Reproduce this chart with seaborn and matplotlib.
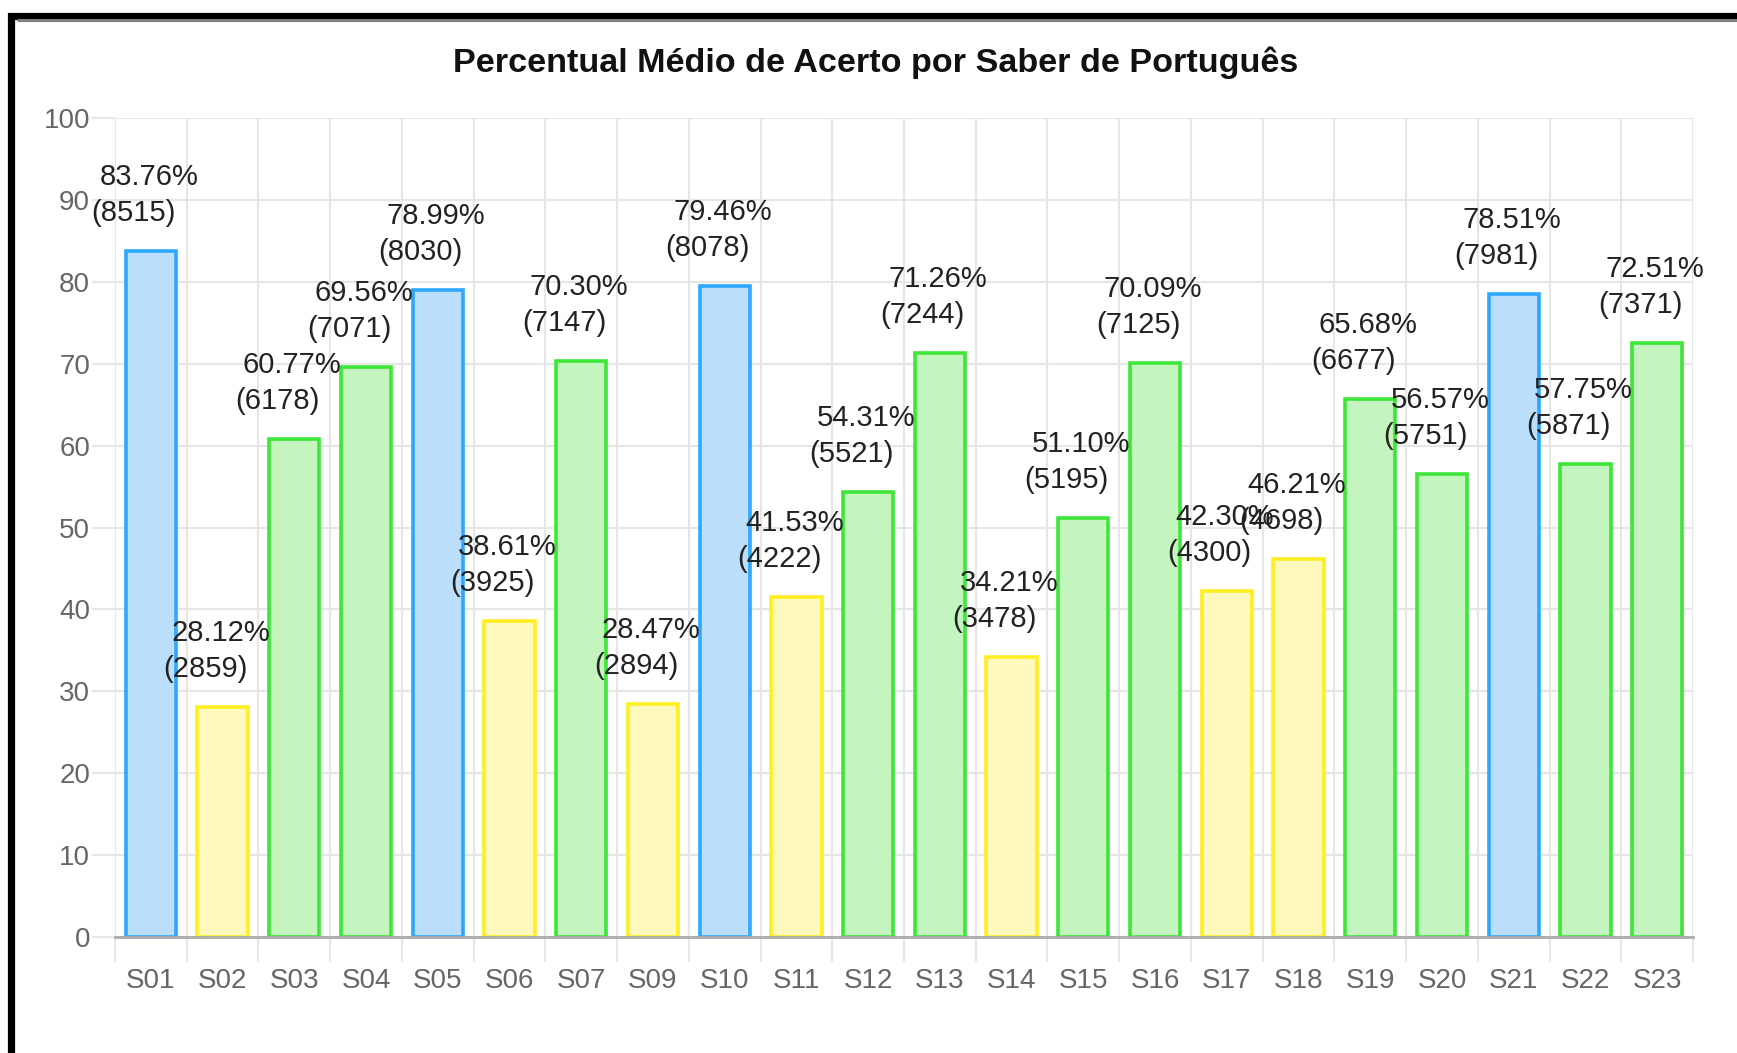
import matplotlib
matplotlib.use("Agg")
import matplotlib.pyplot as plt
import seaborn as sns
import pandas as pd
import numpy as np
from matplotlib.patches import Rectangle
from matplotlib.lines import Line2D
from matplotlib.ticker import FixedLocator, MultipleLocator

# ---------------- data ----------------
categories = ["S01", "S02", "S03", "S04", "S05", "S06", "S07", "S09", "S10", "S11", "S12",
              "S13", "S14", "S15", "S16", "S17", "S18", "S19", "S20", "S21", "S22", "S23"]
percentages = [83.76, 28.12, 60.77, 69.56, 78.99, 38.61, 70.30, 28.47, 79.46, 41.53, 54.31,
               71.26, 34.21, 51.10, 70.09, 42.30, 46.21, 65.68, 56.57, 78.51, 57.75, 72.51]
counts = [8515, 2859, 6178, 7071, 8030, 3925, 7147, 2894, 8078, 4222, 5521,
          7244, 3478, 5195, 7125, 4300, 4698, 6677, 5751, 7981, 5871, 7371]
levels = ["alto", "baixo", "medio", "medio", "alto", "baixo", "medio", "baixo", "alto", "baixo", "medio",
          "medio", "baixo", "medio", "medio", "baixo", "baixo", "medio", "medio", "alto", "medio", "medio"]
title = "Percentual Médio de Acerto por Saber de Português"

fill_colors = {"alto": "#BBDFFA", "medio": "#C4F5BE", "baixo": "#FFF9BD"}
edge_colors = {"alto": "#2EA8FF", "medio": "#3EE63A", "baixo": "#FFEE22"}

# ---------------- style ----------------
sns.set_theme(style="white")
plt.rcParams["font.family"] = ["Liberation Sans", "DejaVu Sans"]

W, H = 1737, 1053
fig = plt.figure(figsize=(W / 100, H / 100), dpi=100)
ax = fig.add_axes([115 / W, 1 - 937 / H, (1693 - 115) / W, (937 - 118) / H])

df = pd.DataFrame({"saber": categories, "pct": percentages, "n": counts, "nivel": levels})
sns.barplot(data=df, x="saber", y="pct", hue="saber",
            palette=[fill_colors[l] for l in levels], width=0.7, saturation=1,
            legend=False, errorbar=None, ax=ax, zorder=3)

for cont, lvl in zip(ax.containers, levels):
    for p in cont:
        p.set_edgecolor(edge_colors[lvl])
        p.set_linewidth(2.6)

ax.set_xlim(-0.5, len(categories) - 0.5)
ax.set_ylim(0, 100)
ax.set_xlabel("")
ax.set_ylabel("")
ax.set_axisbelow(True)

grid_c = "#E6E6E6"
ax.yaxis.set_major_locator(MultipleLocator(10))
ax.xaxis.set_minor_locator(FixedLocator(np.arange(-0.5, len(categories), 1.0)))
ax.grid(False)
ax.grid(True, which="major", axis="y", color=grid_c, lw=1.5)
ax.grid(True, which="minor", axis="x", color=grid_c, lw=1.5)

for s in ["left", "top", "right"]:
    ax.spines[s].set_visible(False)
ax.spines["bottom"].set_color("#ABABAB")
ax.spines["bottom"].set_linewidth(2)
ax.spines["bottom"].set_zorder(4)

ax.tick_params(axis="x", which="minor", bottom=True, length=18, width=1.5, color=grid_c)
ax.tick_params(axis="x", which="major", bottom=True, length=0, pad=22, labelsize=20, labelcolor="#666666")
ax.tick_params(axis="y", which="major", left=True, length=16.5, width=1.5, color=grid_c,
               pad=1.5, labelsize=20, labelcolor="#666666")
ax.yaxis.get_major_ticks()[0].tick1line.set_color("#ABABAB")

# value labels
for cont, pct, n in zip(ax.containers, percentages, counts):
    bar = cont[0]
    cx = bar.get_x() + bar.get_width() / 2
    top = bar.get_height()
    ax.annotate(f"{pct:.2f}%", xy=(cx, top), xytext=(-2, 74), textcoords="offset pixels",
                ha="center", va="center", fontsize=21, color="#222222", zorder=5)
    ax.annotate(f"({n})", xy=(cx, top), xytext=(-17, 38), textcoords="offset pixels",
                ha="center", va="center", fontsize=21, color="#222222", zorder=5)

fig.text(876 / W, 1 - 63 / H, title, ha="center", va="center",
         fontsize=24.6, fontweight="bold", color="#111111")

# outer frame (cropped at right and bottom)
fig.add_artist(Line2D([18 / W, 1.0], [1 - 19.5 / H, 1 - 19.5 / H], transform=fig.transFigure,
                      color="#808080", linewidth=2.2))
fig.add_artist(Rectangle((11 / W, -0.5), 2.0, 0.5 + 1 - 16 / H, transform=fig.transFigure,
                         fill=False, edgecolor="black", linewidth=5.2, clip_on=False))

fig.savefig("out.png", dpi=100)
